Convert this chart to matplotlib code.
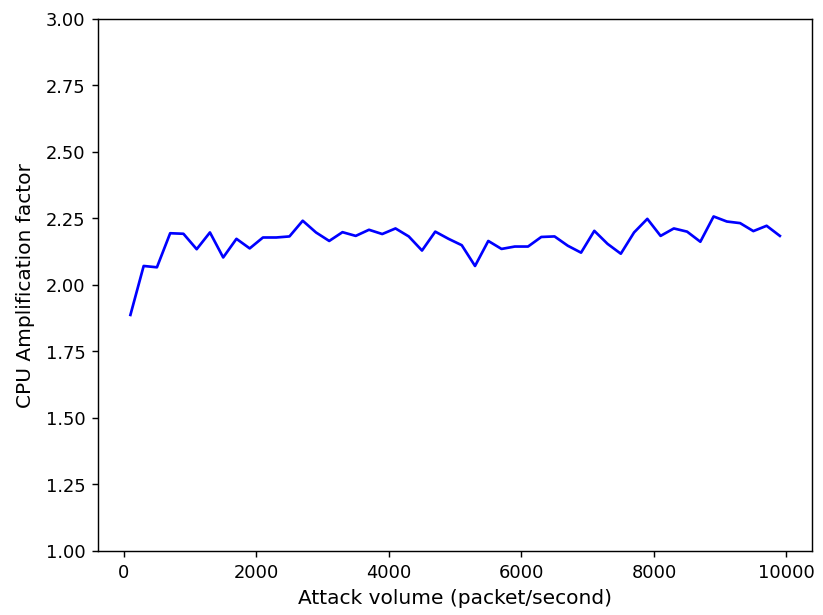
import numpy as np
import matplotlib
matplotlib.use("Agg")
import matplotlib.pyplot as plt

# attack volume (packets/second), one measurement every 200 pps
attack_volume = np.arange(100, 10000, 200)
amplification = [
    1.887, 2.071, 2.066, 2.194, 2.192, 2.134, 2.197, 2.103, 2.173, 2.137,
    2.178, 2.178, 2.182, 2.241, 2.197, 2.165, 2.198, 2.184, 2.207, 2.191,
    2.212, 2.182, 2.129, 2.200, 2.173, 2.149, 2.071, 2.165, 2.135, 2.144,
    2.144, 2.180, 2.182, 2.147, 2.121, 2.203, 2.154, 2.117, 2.197, 2.248,
    2.184, 2.212, 2.200, 2.162, 2.257, 2.238, 2.232, 2.202, 2.222, 2.184,
]

fig = plt.figure(figsize=(6.4, 4.785), dpi=128.6)
ax = fig.add_subplot(111)
fig.subplots_adjust(left=0.119, right=0.987, top=0.969, bottom=0.104)

ax.plot(attack_volume, amplification, color="b")
ax.set_ylim(1.0, 3.0)
ax.set_xlabel("Attack volume (packet/second)", fontsize=11.3)
ax.set_ylabel("CPU Amplification factor", fontsize=11.3, labelpad=6)

fig.savefig("out.png")
